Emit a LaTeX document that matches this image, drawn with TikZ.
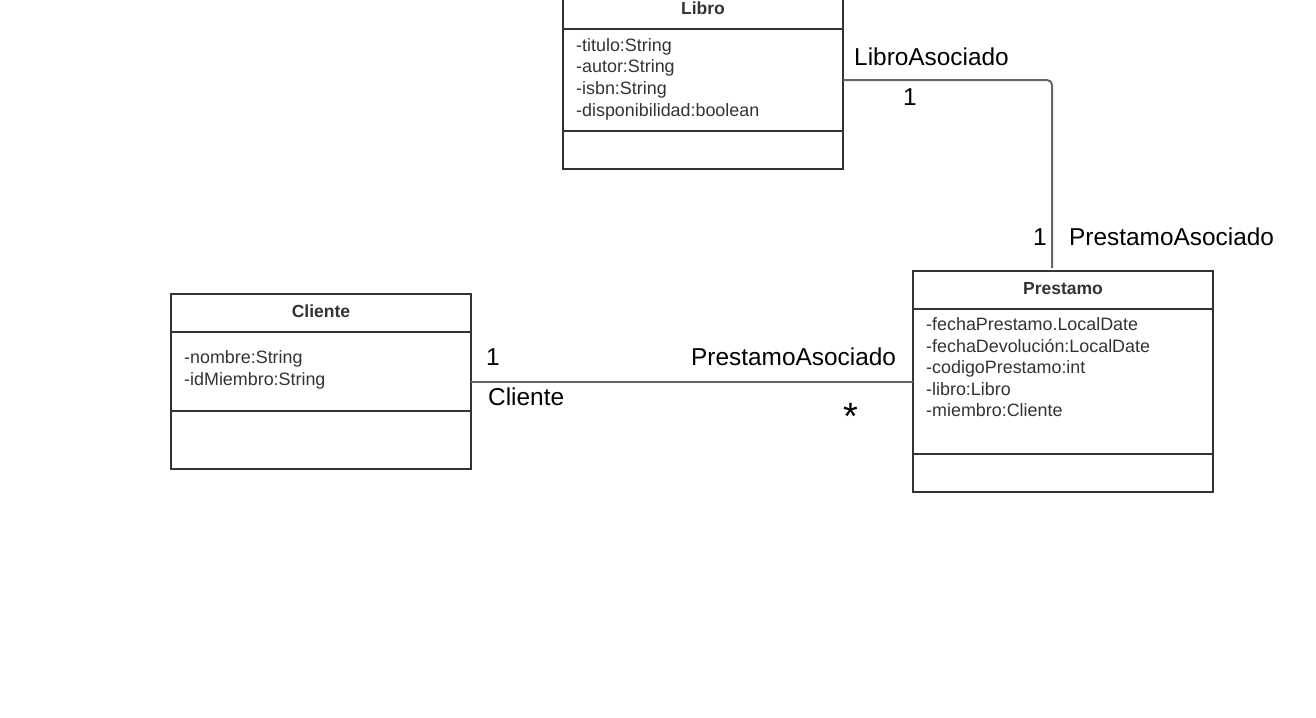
\documentclass[tikz,border=0pt]{standalone}
\usepackage{fontspec}
\setmainfont{Liberation Sans}
\usetikzlibrary{positioning}
\definecolor{boxline}{HTML}{333333}
\definecolor{linkline}{HTML}{666666}
\definecolor{attrtext}{HTML}{333333}
\begin{document}
\begin{tikzpicture}[x=1pt,y=-1pt,
    box/.style={draw=boxline,line width=2pt,outer sep=0pt,inner sep=0pt},
    classname/.style={box,text=attrtext,text height=12.5pt,text depth=3.5pt,
      font={\fontsize{17.5}{21}\selectfont\bfseries}},
    attr/.style={anchor=base west,inner sep=0pt,text=attrtext,
      font={\fontsize{17.9}{21}\selectfont}},
    role/.style={anchor=base west,inner sep=0pt,font={\fontsize{24.4}{28}\selectfont}},
    mult/.style={role,anchor=base},
    link/.style={draw=linkline,line width=2pt}]
  \useasboundingbox (0,0) rectangle (1316,717);
  % Libro
  \node[classname,minimum width=280,minimum height=38,anchor=north west] (libro) at (563,-9) {Libro};
  \node[box,minimum width=280,minimum height=102,below=0pt of libro] (libroattr) {};
  \node[box,minimum width=280,minimum height=38,below=0pt of libroattr] (libroop) {};
  \foreach \a [count=\i] in {-titulo:String,-autor:String,-isbn:String,-disponibilidad:boolean}
    \node[attr] (libro\i) at (576,{30+21.5*\i}) {\a};
  % Prestamo
  \node[classname,minimum width=300,minimum height=38,anchor=north west] (prestamo) at (913,271) {Prestamo};
  \node[box,minimum width=300,minimum height=145,below=0pt of prestamo] (prestamoattr) {};
  \node[box,minimum width=300,minimum height=38,below=0pt of prestamoattr] (prestamoop) {};
  \foreach \a [count=\i] in {-fechaPrestamo.LocalDate,-fechaDevolución:LocalDate,
      -codigoPrestamo:int,-libro:Libro,-miembro:Cliente}
    \node[attr] (prestamo\i) at (926,{309+21.5*\i}) {\a};
  % Cliente
  \node[classname,minimum width=300,minimum height=38,anchor=north west] (cliente) at (171,294) {Cliente};
  \node[box,minimum width=300,minimum height=79,below=0pt of cliente] (clienteattr) {};
  \node[box,minimum width=300,minimum height=58,below=0pt of clienteattr] (clienteop) {};
  \foreach \a [count=\i] in {-nombre:String,-idMiembro:String}
    \node[attr] (cliente\i) at (184,{342+21.5*\i}) {\a};
  % associations
  \coordinate (prestamotop) at ([xshift=-11pt,yshift=3pt]prestamo.north);
  \begin{scope}[link]
    \draw[rounded corners=5pt] (libroattr.east) -| (prestamotop);
    \draw (prestamoattr.west -| clienteattr.east) -- (prestamoattr.west);
  \end{scope}
  \node[role] (librorole) at (854,65.5) {LibroAsociado};
  \node[mult] (libromult) at (910,105.5) {1};
  \node[mult] (prestamomulta) at (1040,245.5) {1};
  \node[role] (prestamorolea) at (1069,245.5) {PrestamoAsociado};
  \node[mult] (clientemult) at (493,365.5) {1};
  \node[role] (clienterole) at (488,405.5) {Cliente};
  \node[role] (prestamoroleb) at (691,365.5) {PrestamoAsociado};
  \node[mult,font={\fontsize{38}{40}\selectfont}] (prestamomultb) at (851,429) {*};
\end{tikzpicture}
\end{document}
